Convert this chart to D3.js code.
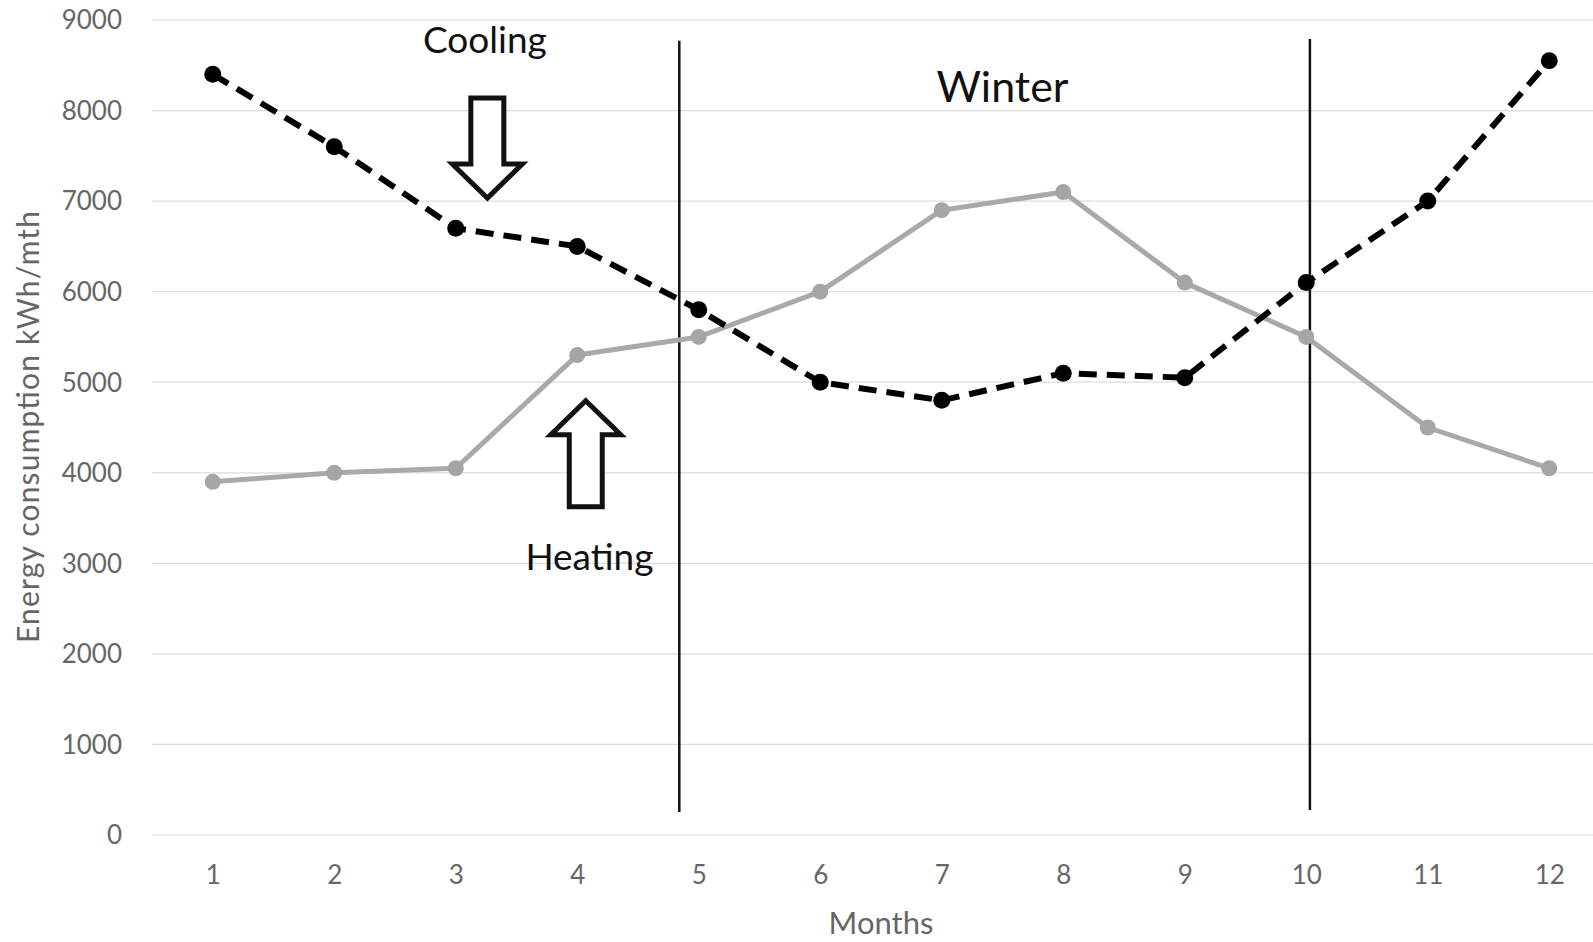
<!DOCTYPE html>
<html>
<head>
<meta charset="utf-8">
<script src="https://cdn.jsdelivr.net/npm/d3@7"></script>
<style>
  html, body { margin: 0; padding: 0; background: #fff; }
  svg { display: block; }
  text { font-family: Lato, "Open Sans", sans-serif; }
</style>
</head>
<body>
<svg id="chart" width="1593" height="942"></svg>
<script>
// ---- data ----
const months = [1, 2, 3, 4, 5, 6, 7, 8, 9, 10, 11, 12];
const cooling = [8400, 7600, 6700, 6500, 5800, 5000, 4800, 5100, 5050, 6100, 7000, 8550];
const heating = [3900, 4000, 4050, 5300, 5500, 6000, 6900, 7100, 6100, 5500, 4500, 4050];
const yTicks = [0, 1000, 2000, 3000, 4000, 5000, 6000, 7000, 8000, 9000];
const yTitle = "Energy consumption kWh/mth";
const xTitle = "Months";
// season dividers (month position, top value, bottom value)
const dividerMonths = [4.84, 10.03];
const dividerTops = [8770, 8790];
const dividerBottoms = [255, 275];
// text annotations
const labelTexts = ["Cooling", "Winter", "Heating"];
const labelMonths = [3.24, 7.50, 4.10];
const labelValues = [8640, 8100, 2930];
// arrow annotations (tip position, direction)
const arrowMonths = [3.26, 4.07];
const arrowValues = [7000, 4840];
const arrowDirs = ["down", "up"];

// ---- layout ----
const svg = d3.select("#chart");
const x = d3.scaleLinear().domain([0.5, 12.5]).range([152, 1610]);
const y = d3.scaleLinear().domain([0, 9000]).range([835, 20]);

// gridlines
svg.append("g").selectAll("line").data(yTicks).join("line")
  .attr("x1", x(0.5)).attr("x2", 1593)
  .attr("y1", d => y(d)).attr("y2", d => y(d))
  .attr("stroke", "#dcdcdc").attr("stroke-width", 1.2);

// y axis labels
const yAxis = d3.axisLeft(y).tickValues(yTicks).tickSize(0).tickPadding(0).tickFormat(d3.format("d"));
const gy = svg.append("g").attr("transform", "translate(122,0)").call(yAxis);
gy.select(".domain").remove();
gy.selectAll("text").attr("font-size", 26).attr("fill", "#666")
  .attr("font-family", "Lato, sans-serif").attr("dy", "0.34em");

// x axis labels
const xAxis = d3.axisBottom(x).tickValues(months).tickSize(0).tickPadding(0).tickFormat(d3.format("d"));
const gx = svg.append("g").attr("transform", "translate(0,866)").call(xAxis);
gx.select(".domain").remove();
gx.selectAll("text").attr("font-size", 26).attr("fill", "#666")
  .attr("font-family", "Lato, sans-serif").attr("dy", "0.71em");

// axis titles
svg.append("text").attr("x", 881).attr("y", 934).attr("text-anchor", "middle")
  .attr("font-size", 31).attr("fill", "#666").text(xTitle);
svg.append("text").attr("transform", "translate(39,427) rotate(-90)")
  .attr("text-anchor", "middle").attr("font-size", 30).attr("fill", "#666")
  .attr("textLength", 432).attr("lengthAdjust", "spacing").text(yTitle);

// divider lines
svg.append("g").selectAll("line").data(dividerMonths).join("line")
  .attr("x1", d => x(d)).attr("x2", d => x(d))
  .attr("y1", (d, i) => y(dividerTops[i])).attr("y2", (d, i) => y(dividerBottoms[i]))
  .attr("stroke", "#111").attr("stroke-width", 2.5);

// heating series
const line = d3.line().x((d, i) => x(months[i])).y(d => y(d));
svg.append("path").datum(heating).attr("d", line)
  .attr("fill", "none").attr("stroke", "#a9a9a9").attr("stroke-width", 5)
  .attr("stroke-linejoin", "round");
svg.append("g").selectAll("circle").data(heating).join("circle")
  .attr("cx", (d, i) => x(months[i])).attr("cy", d => y(d)).attr("r", 8)
  .attr("fill", "#a5a5a5");

// cooling series
svg.append("path").datum(cooling).attr("d", line)
  .attr("fill", "none").attr("stroke", "#000").attr("stroke-width", 6)
  .attr("stroke-dasharray", "18,10").attr("stroke-linejoin", "round");
svg.append("g").selectAll("circle").data(cooling).join("circle")
  .attr("cx", (d, i) => x(months[i])).attr("cy", d => y(d)).attr("r", 8.5)
  .attr("fill", "#000");

// text annotations
const labelSizes = [37, 43, 37];
svg.append("g").selectAll("text").data(labelTexts).join("text")
  .attr("x", (d, i) => x(labelMonths[i])).attr("y", (d, i) => y(labelValues[i]))
  .attr("text-anchor", "middle").attr("font-size", (d, i) => labelSizes[i])
  .attr("fill", "#111").text(d => d);

// arrows
function arrowPath(dir) {
  const s = dir === "down" ? -1 : 1; // body extends opposite of the tip
  const hw = 35, sw = 16.5, hh = 34, len = dir === "down" ? 100 : 106;
  const pts = [[0, 0], [hw, s * hh], [sw, s * hh], [sw, s * len], [-sw, s * len], [-sw, s * hh], [-hw, s * hh]];
  return "M" + pts.map(p => p.join(",")).join("L") + "Z";
}
svg.append("g").selectAll("path").data(arrowDirs).join("path")
  .attr("transform", (d, i) => `translate(${x(arrowMonths[i])},${y(arrowValues[i]) + (d === "down" ? -3 : 4)})`)
  .attr("d", d => arrowPath(d))
  .attr("fill", "#fff").attr("stroke", "#111").attr("stroke-width", 5)
  .attr("stroke-linejoin", "miter");
</script>
</body>
</html>
